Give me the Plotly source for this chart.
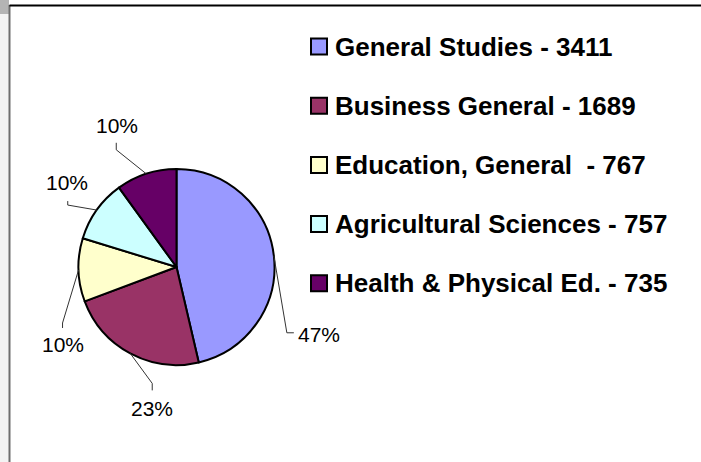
import math
import plotly.graph_objects as go

categories = ["General Studies", "Business General", "Education, General\u00a0", "Agricultural Sciences", "Health & Physical Ed."]
values = [3411, 1689, 767, 757, 735]
shown_pct = [47, 23, 10, 10, 10]  # percentages as printed on the chart
colors = ["#9999FF", "#993366", "#FFFFCC", "#CCFFFF", "#660066"]

W, H = 701, 462
# pie placement (pixels)
CX, CY, R = 176.5, 267, 98

def px(x):
    return x / W

def py(y):
    return 1 - y / H

fig = go.Figure()
fig.add_trace(go.Pie(
    labels=categories, values=values, sort=False, direction="clockwise", rotation=0,
    marker=dict(colors=colors, line=dict(color="black", width=2)),
    textinfo="none", hoverinfo="label+value+percent", showlegend=False,
    domain=dict(x=[px(CX - R), px(CX + R)], y=[py(CY + R), py(CY - R)]),
))

# label offsets relative to slice edge midpoint: (bend, end, text), and anchor
label_layout = [
    ((13, 77), (20, 77), (22, 79), "left"),
    ((22, 30), (22, 37), (22, 55), "center"),
    ((-16, 53), (-16, 58), (-16, 75), "center"),
    ((-29, -5), (-29, -9), (-30, -28), "center"),
    ((-30, -24), (-30, -31), (-29, -48), "center"),
]

total = sum(values)
shapes = []
annotations = []
cum = 0
for v, p, (bend, end, txt, anchor) in zip(values, shown_pct, label_layout):
    mid = (cum + v / 2) / total * 2 * math.pi
    cum += v
    ex = CX + R * math.sin(mid)
    ey = CY - R * math.cos(mid)
    bx, by = ex + bend[0], ey + bend[1]
    nx, ny = ex + end[0], ey + end[1]
    tx, tyy = ex + txt[0], ey + txt[1]
    shapes.append(dict(type="path", xref="paper", yref="paper",
                       path=f"M {px(ex)},{py(ey)} L {px(bx)},{py(by)} L {px(nx)},{py(ny)}",
                       line=dict(color="#333333", width=1)))
    annotations.append(dict(x=px(tx), y=py(tyy), xref="paper", yref="paper",
                            text=f"{p}%", showarrow=False, xanchor=anchor, yanchor="middle",
                            font=dict(family="Arial, Liberation Sans", size=21, color="black")))

# manual legend
LX, LY0, LDY, SQ = 311, 46.5, 59.2, 16
for i, (c, v, col) in enumerate(zip(categories, values, colors)):
    yc = LY0 + i * LDY
    shapes.append(dict(type="rect", xref="paper", yref="paper",
                       x0=px(LX), x1=px(LX + SQ), y0=py(yc + SQ / 2), y1=py(yc - SQ / 2),
                       fillcolor=col, line=dict(color="black", width=2)))
    annotations.append(dict(x=px(LX + SQ + 6), y=py(yc), xref="paper", yref="paper",
                            text=f"<b>{c} - {v}</b>", showarrow=False, xanchor="left", yanchor="middle",
                            font=dict(family="Arial, Liberation Sans", size=26, color="black")))

# frame decorations
shapes.append(dict(type="rect", xref="paper", yref="paper", x0=0, x1=px(9), y0=0, y1=1,
                   fillcolor="#f3f3f3", line=dict(width=0), layer="below"))
shapes.append(dict(type="rect", xref="paper", yref="paper", x0=0, x1=px(9), y0=py(14), y1=1,
                   fillcolor="#8a8a8a", line=dict(width=0), layer="below", opacity=0.6))
shapes.append(dict(type="line", xref="paper", yref="paper", x0=px(9.5), x1=px(9.5), y0=0, y1=py(5),
                   line=dict(color="#6e6e6e", width=2)))
shapes.append(dict(type="line", xref="paper", yref="paper", x0=px(9.5), x1=1, y0=py(5.5), y1=py(5.5),
                   line=dict(color="black", width=2)))

fig.update_layout(
    width=W, height=H, margin=dict(l=0, r=0, t=0, b=0),
    paper_bgcolor="white", plot_bgcolor="white",
    shapes=shapes, annotations=annotations, showlegend=False,
)
fig.write_html("out.html", config={"displayModeBar": False},
               post_script="document.body.style.margin='0';document.body.style.overflow='hidden';")
